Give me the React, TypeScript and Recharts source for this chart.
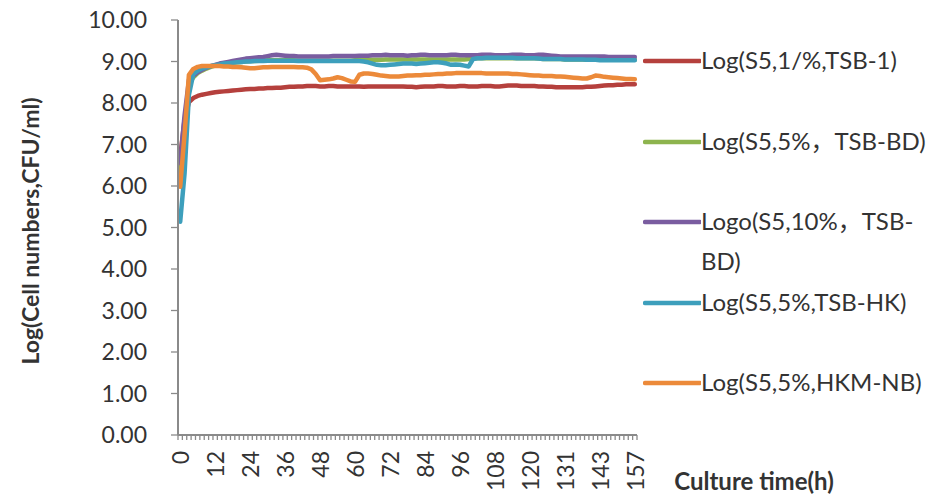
import React from "react";
import { LineChart, Line, XAxis, YAxis, Label } from "recharts";

// Culture time labels, one every 8 sampling points (points 0, 8, 16, ... 104)
const hourLabels = [0, 12, 24, 36, 48, 60, 72, 84, 96, 108, 120, 131, 143, 157];
const LABEL_EVERY = 8;

const yTicks = [0, 1, 2, 3, 4, 5, 6, 7, 8, 9, 10];

// log10 cell counts per sampling point
const tsb1 = [
  6.7, 7.6, 8.02, 8.12, 8.17, 8.2, 8.22, 8.24, 8.26, 8.27,
  8.28, 8.29, 8.3, 8.31, 8.32, 8.33, 8.34, 8.34, 8.35, 8.35,
  8.36, 8.36, 8.37, 8.37, 8.38, 8.39, 8.39, 8.4, 8.4, 8.41,
  8.41, 8.41, 8.4, 8.4, 8.41, 8.41, 8.4, 8.4, 8.4, 8.4,
  8.4, 8.4, 8.39, 8.4, 8.4, 8.4, 8.4, 8.4, 8.4, 8.4,
  8.4, 8.4, 8.39, 8.39, 8.38, 8.39, 8.4, 8.4, 8.4, 8.41,
  8.41, 8.4, 8.4, 8.4, 8.41, 8.41, 8.4, 8.4, 8.4, 8.41,
  8.41, 8.41, 8.4, 8.4, 8.41, 8.42, 8.42, 8.42, 8.41, 8.41,
  8.41, 8.41, 8.4, 8.4, 8.39, 8.39, 8.38, 8.38, 8.38, 8.38,
  8.38, 8.38, 8.38, 8.39, 8.39, 8.4, 8.41, 8.42, 8.43, 8.43,
  8.44, 8.44, 8.45, 8.45, 8.45,
];

const tsbBd5 = [
  6.35, 7.5, 8.45, 8.62, 8.72, 8.78, 8.83, 8.87, 8.9, 8.92,
  8.94, 8.95, 8.97, 8.98, 8.99, 9.0, 9.01, 9.01, 9.02, 9.02,
  9.03, 9.03, 9.03, 9.03, 9.03, 9.03, 9.03, 9.02, 9.02, 9.02,
  9.02, 9.02, 9.02, 9.02, 9.02, 9.02, 9.02, 9.02, 9.02, 9.02,
  9.03, 9.03, 9.03, 9.04, 9.04, 9.04, 9.04, 9.05, 9.05, 9.05,
  9.05, 9.05, 9.05, 9.05, 9.05, 9.05, 9.05, 9.05, 9.05, 9.05,
  9.05, 9.05, 9.05, 9.05, 9.05, 9.05, 9.06, 9.07, 9.08, 9.08,
  9.08, 9.08, 9.08, 9.08, 9.08, 9.08, 9.08, 9.08, 9.08, 9.08,
  9.08, 9.08, 9.07, 9.06, 9.06, 9.06, 9.06, 9.06, 9.05, 9.05,
  9.05, 9.05, 9.05, 9.04, 9.04, 9.04, 9.04, 9.04, 9.04, 9.04,
  9.04, 9.04, 9.04, 9.04, 9.04,
];

const tsbBd10 = [
  6.55, 7.7, 8.55, 8.66, 8.74, 8.8, 8.85, 8.89, 8.92, 8.95,
  8.97, 8.99, 9.01, 9.03, 9.05, 9.07, 9.08, 9.09, 9.1, 9.11,
  9.13, 9.15, 9.16, 9.15, 9.14, 9.13, 9.13, 9.12, 9.12, 9.12,
  9.12, 9.12, 9.12, 9.12, 9.12, 9.13, 9.13, 9.13, 9.13, 9.13,
  9.13, 9.14, 9.14, 9.14, 9.15, 9.15, 9.15, 9.16, 9.15, 9.15,
  9.15, 9.15, 9.14, 9.15, 9.15, 9.16, 9.16, 9.15, 9.15, 9.15,
  9.15, 9.15, 9.16, 9.16, 9.15, 9.15, 9.15, 9.15, 9.15, 9.16,
  9.16, 9.16, 9.15, 9.15, 9.15, 9.15, 9.16, 9.16, 9.16, 9.15,
  9.15, 9.15, 9.16, 9.16, 9.15, 9.14, 9.13, 9.12, 9.12, 9.12,
  9.12, 9.12, 9.12, 9.12, 9.12, 9.12, 9.12, 9.12, 9.11, 9.11,
  9.11, 9.11, 9.11, 9.11, 9.11,
];

const tsbHk = [
  5.14, 6.3, 8.2, 8.7, 8.78, 8.83, 8.86, 8.89, 8.91, 8.93,
  8.95, 8.96, 8.97, 8.98, 8.99, 9.0, 9.0, 9.01, 9.01, 9.01,
  9.02, 9.02, 9.02, 9.02, 9.02, 9.02, 9.02, 9.01, 9.01, 9.01,
  9.01, 9.01, 9.01, 9.01, 9.01, 9.01, 9.01, 9.01, 9.01, 9.01,
  9.01, 9.01, 9.0, 8.98, 8.95, 8.92, 8.91, 8.91, 8.92, 8.93,
  8.94, 8.95, 8.95, 8.95, 8.94, 8.95, 8.96, 8.97, 8.98, 8.98,
  8.97, 8.95, 8.92, 8.93, 8.92, 8.9, 8.88, 9.06, 9.08, 9.08,
  9.09, 9.09, 9.09, 9.09, 9.09, 9.09, 9.09, 9.08, 9.08, 9.08,
  9.08, 9.08, 9.07, 9.06, 9.06, 9.06, 9.06, 9.06, 9.05, 9.05,
  9.05, 9.05, 9.05, 9.04, 9.04, 9.04, 9.03, 9.03, 9.03, 9.03,
  9.03, 9.03, 9.03, 9.03, 9.03,
];

const hkmNb = [
  5.98, 7.25, 8.68, 8.82, 8.87, 8.89, 8.89, 8.89, 8.89, 8.89,
  8.88, 8.88, 8.87, 8.87, 8.86, 8.85, 8.84, 8.84, 8.85, 8.86,
  8.86, 8.87, 8.87, 8.87, 8.87, 8.87, 8.87, 8.86, 8.86, 8.85,
  8.81, 8.7, 8.55, 8.56, 8.57, 8.59, 8.62, 8.6, 8.56, 8.52,
  8.51, 8.68, 8.71, 8.71, 8.7, 8.68, 8.66, 8.65, 8.64, 8.64,
  8.64, 8.65, 8.66, 8.66, 8.67, 8.67, 8.68, 8.68, 8.69, 8.7,
  8.7, 8.71, 8.71, 8.72, 8.72, 8.72, 8.72, 8.72, 8.72, 8.72,
  8.71, 8.71, 8.71, 8.71, 8.71, 8.71, 8.7, 8.7, 8.69, 8.68,
  8.67, 8.66, 8.66, 8.65, 8.65, 8.65, 8.64, 8.64, 8.63, 8.62,
  8.61, 8.6, 8.59, 8.59, 8.62, 8.66, 8.65, 8.63, 8.62, 8.61,
  8.6, 8.59, 8.58, 8.58, 8.57,
];

const series = [
  { key: "tsb1", name: "Log(S5,1/%,TSB-1)", color: "#B5403D", values: tsb1 },
  { key: "tsbBd5", name: "Log(S5,5%，TSB-BD)", color: "#8DB44E", values: tsbBd5 },
  { key: "tsbBd10", name: "Logo(S5,10%，TSB-BD)", color: "#7A5DA0", values: tsbBd10 },
  { key: "tsbHk", name: "Log(S5,5%,TSB-HK)", color: "#3D9FBC", values: tsbHk },
  { key: "hkmNb", name: "Log(S5,5%,HKM-NB)", color: "#EC8A3A", values: hkmNb },
];

const rows = tsb1.map((_, i) => {
  const row: Record<string, number> = { idx: i };
  series.forEach((s) => {
    row[s.key] = s.values[i];
  });
  return row;
});

const FONT = "Lato, 'Noto Sans CJK SC', sans-serif";
const AXIS = "#8A8A8A";
const TEXT = "#333333";

const WIDTH = 940;
const HEIGHT = 497;
const PLOT_LEFT = 178;
const PLOT_RIGHT = 637;
const PLOT_TOP = 20;
const PLOT_BOTTOM = 435;
const STEP = (PLOT_RIGHT - PLOT_LEFT) / rows.length;

// Tick marks sit between sampling points, labels on every 8th point
function TimeTick(props: any) {
  const { x, y, payload, index } = props;
  const half = STEP / 2;
  const i = payload.value as number;
  const showLabel = i % LABEL_EVERY === 0;
  const ly = y + 16;
  return (
    <g>
      <line x1={x - half} x2={x - half} y1={y} y2={y + 5} stroke={AXIS} strokeWidth={1.3} />
      {index === rows.length - 1 && (
        <line x1={x + half} x2={x + half} y1={y} y2={y + 5} stroke={AXIS} strokeWidth={1.3} />
      )}
      {showLabel && (
        <text
          x={x}
          y={ly}
          transform={`rotate(-90, ${x}, ${ly})`}
          textAnchor="end"
          dominantBaseline="central"
          fontFamily={FONT}
          fontSize={23}
          fill={TEXT}
        >
          {hourLabels[i / LABEL_EVERY]}
        </text>
      )}
    </g>
  );
}

function YTitle() {
  const cx = 30;
  const cy = 231;
  return (
    <text
      x={cx}
      y={cy}
      transform={`rotate(-90, ${cx}, ${cy})`}
      textAnchor="middle"
      dominantBaseline="central"
      fontFamily={FONT}
      fontWeight={700}
      fontSize={23}
      fill={TEXT}
    >
      Log(Cell numbers,CFU/ml)
    </text>
  );
}

function XTitle() {
  return (
    <text
      x={754}
      y={480}
      textAnchor="middle"
      dominantBaseline="central"
      fontFamily={FONT}
      fontWeight={700}
      fontSize={24}
      fill={TEXT}
    >
      Culture time(h)
    </text>
  );
}

function SideLegend() {
  return (
    <div
      style={{
        position: "absolute",
        left: 643,
        top: 40,
        width: 295,
        fontFamily: FONT,
        fontSize: 24,
        color: TEXT,
      }}
    >
      {series.map((s) => (
        <div key={s.key} style={{ height: 80.5, display: "flex", alignItems: "flex-start" }}>
          <svg width={58} height={40} style={{ flex: "none" }}>
            <line x1={2} x2={57} y1={21} y2={21} stroke={s.color} strokeWidth={4.5} strokeLinecap="round" />
          </svg>
          <div style={{ lineHeight: "40px", width: 232, whiteSpace: "normal" }}>{s.name}</div>
        </div>
      ))}
    </div>
  );
}

export default function App() {
  return (
    <div style={{ position: "absolute", left: 0, top: 0, width: WIDTH, height: HEIGHT, background: "#fff" }}>
      <LineChart
        width={WIDTH}
        height={HEIGHT}
        data={rows}
        margin={{ top: PLOT_TOP, right: WIDTH - PLOT_RIGHT, bottom: 0, left: 0 }}
      >
        <XAxis
          dataKey="idx"
          type="category"
          interval={0}
          height={HEIGHT - PLOT_BOTTOM}
          padding={{ left: STEP / 2, right: STEP / 2 }}
          axisLine={{ stroke: AXIS, strokeWidth: 2 }}
          tickLine={false}
          tickSize={0}
          tickMargin={0}
          tick={<TimeTick />}
        >
          <Label content={<XTitle />} />
        </XAxis>
        <YAxis
          width={PLOT_LEFT}
          domain={[0, 10]}
          ticks={yTicks}
          interval={0}
          tickFormatter={(v: number) => v.toFixed(2)}
          tickSize={7}
          tickMargin={24}
          axisLine={{ stroke: AXIS, strokeWidth: 2 }}
          tickLine={{ stroke: AXIS, strokeWidth: 1.3 }}
          tick={{ fontFamily: FONT, fontSize: 23, fill: TEXT }}
        >
          <Label content={<YTitle />} />
        </YAxis>
        {series.map((s) => (
          <Line
            key={s.key}
            type="linear"
            dataKey={s.key}
            name={s.name}
            stroke={s.color}
            strokeWidth={4.5}
            strokeLinejoin="round"
            strokeLinecap="round"
            dot={false}
            activeDot={false}
            isAnimationActive={false}
          />
        ))}
      </LineChart>
      <SideLegend />
    </div>
  );
}
